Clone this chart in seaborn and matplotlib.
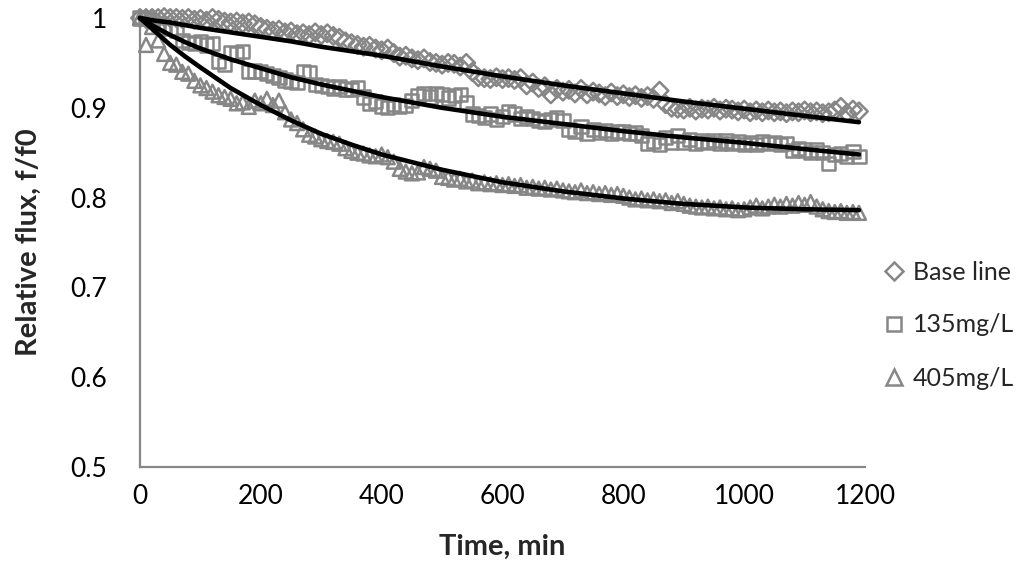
import numpy as np
import pandas as pd
import matplotlib
matplotlib.use("Agg")
import matplotlib.pyplot as plt
import seaborn as sns
from matplotlib.lines import Line2D

# ---------------- data ----------------
time_min = list(range(0, 1200, 10))

base_line = [
    1.000, 1.000, 1.000, 1.000, 1.001, 1.000, 1.000, 0.999, 1.000, 0.998,
    0.999, 0.997, 1.000, 0.998, 0.996, 0.995, 0.996, 0.994, 0.995, 0.993,
    0.990, 0.988, 0.986, 0.987, 0.984, 0.985, 0.982, 0.983, 0.981, 0.984,
    0.981, 0.983, 0.980, 0.978, 0.974, 0.972, 0.970, 0.968, 0.969, 0.966,
    0.964, 0.966, 0.961, 0.957, 0.958, 0.955, 0.953, 0.955, 0.951, 0.950,
    0.948, 0.950, 0.949, 0.946, 0.950, 0.940, 0.934, 0.933, 0.932, 0.934,
    0.932, 0.933, 0.931, 0.933, 0.925, 0.928, 0.922, 0.924, 0.915, 0.921,
    0.918, 0.920, 0.916, 0.921, 0.915, 0.918, 0.916, 0.913, 0.917, 0.913,
    0.915, 0.912, 0.914, 0.911, 0.913, 0.910, 0.919, 0.904, 0.900, 0.899,
    0.898, 0.900, 0.897, 0.899, 0.898, 0.900, 0.897, 0.899, 0.898, 0.896,
    0.898, 0.895, 0.897, 0.895, 0.897, 0.895, 0.896, 0.894, 0.896, 0.895,
    0.897, 0.895, 0.896, 0.894, 0.895, 0.897, 0.901, 0.894, 0.898, 0.896,
]

mg135 = [
    1.000, 0.999, 0.997, 0.993, 0.989, 0.988, 0.986, 0.975, 0.973, 0.972,
    0.974, 0.970, 0.972, 0.952, 0.948, 0.962, 0.960, 0.963, 0.940, 0.941,
    0.940, 0.938, 0.936, 0.934, 0.931, 0.929, 0.928, 0.940, 0.939, 0.926,
    0.925, 0.924, 0.922, 0.924, 0.921, 0.920, 0.922, 0.912, 0.905, 0.907,
    0.902, 0.900, 0.904, 0.901, 0.903, 0.908, 0.914, 0.916, 0.912, 0.916,
    0.915, 0.911, 0.914, 0.915, 0.906, 0.893, 0.891, 0.889, 0.893, 0.887,
    0.890, 0.896, 0.893, 0.888, 0.890, 0.888, 0.886, 0.885, 0.887, 0.889,
    0.886, 0.876, 0.874, 0.879, 0.872, 0.876, 0.873, 0.875, 0.871, 0.874,
    0.873, 0.871, 0.872, 0.869, 0.860, 0.863, 0.859, 0.867, 0.862, 0.869,
    0.862, 0.865, 0.860, 0.863, 0.861, 0.864, 0.860, 0.863, 0.860, 0.862,
    0.859, 0.861, 0.859, 0.862, 0.860, 0.861, 0.859, 0.860, 0.852, 0.855,
    0.853, 0.850, 0.853, 0.850, 0.838, 0.848, 0.849, 0.846, 0.851, 0.846,
]

mg405 = [
    1.000, 0.970, 0.990, 0.975, 0.960, 0.950, 0.948, 0.940, 0.938, 0.930,
    0.925, 0.922, 0.918, 0.914, 0.912, 0.910, 0.905, 0.906, 0.901, 0.908,
    0.905, 0.910, 0.903, 0.908, 0.895, 0.887, 0.883, 0.876, 0.870, 0.868,
    0.865, 0.863, 0.862, 0.860, 0.855, 0.852, 0.850, 0.849, 0.847, 0.846,
    0.848, 0.845, 0.840, 0.832, 0.829, 0.827, 0.828, 0.834, 0.832, 0.830,
    0.823, 0.822, 0.820, 0.821, 0.818, 0.819, 0.816, 0.817, 0.815, 0.816,
    0.814, 0.815, 0.813, 0.814, 0.811, 0.812, 0.810, 0.811, 0.809, 0.810,
    0.808, 0.807, 0.806, 0.808, 0.805, 0.806, 0.804, 0.805, 0.803, 0.804,
    0.802, 0.800, 0.798, 0.799, 0.797, 0.798, 0.796, 0.797, 0.794, 0.796,
    0.793, 0.791, 0.790, 0.789, 0.790, 0.788, 0.789, 0.787, 0.788, 0.786,
    0.787, 0.789, 0.791, 0.788, 0.790, 0.792, 0.790, 0.793, 0.791, 0.794,
    0.792, 0.795, 0.790, 0.787, 0.785, 0.784, 0.785, 0.783, 0.784, 0.783,
]

fit_time = [0, 25, 50, 75, 100, 150, 200, 250, 300, 350, 400, 500, 600,
            700, 800, 900, 1000, 1100, 1190]
fit_base = [1.000, 0.997, 0.995, 0.992, 0.989, 0.984, 0.979, 0.974, 0.968,
            0.963, 0.958, 0.946, 0.935, 0.925, 0.916, 0.907, 0.899, 0.891, 0.884]
fit_135 = [1.000, 0.990, 0.981, 0.973, 0.966, 0.954, 0.944, 0.934, 0.926,
           0.919, 0.912, 0.900, 0.890, 0.882, 0.874, 0.867, 0.861, 0.854, 0.848]
fit_405 = [1.000, 0.985, 0.970, 0.957, 0.945, 0.922, 0.903, 0.886, 0.871,
           0.859, 0.848, 0.831, 0.817, 0.807, 0.799, 0.793, 0.789, 0.787, 0.786]

series_labels = ["Base line", "135mg/L", "405mg/L"]
x_ticks = [0, 200, 400, 600, 800, 1000, 1200]
y_ticks = [0.5, 0.6, 0.7, 0.8, 0.9, 1.0]
y_tick_labels = ["0.5", "0.6", "0.7", "0.8", "0.9", "1"]

# ---------------- style ----------------
sns.set_style("white")
plt.rcParams["font.family"] = ["Lato", "DejaVu Sans"]

GRAY = "#878787"

fig = plt.figure(figsize=(10.24, 5.67), dpi=100)
ax = fig.add_axes([140 / 1024, 1 - 467 / 567, 725 / 1024, 449 / 567])

markers = ["D", "s", "^"]
sizes = [80, 90, 100]
for yv, m, s in zip([base_line, mg135, mg405], markers, sizes):
    sns.scatterplot(x=time_min, y=yv, ax=ax, marker=m, s=s,
                    facecolors="none", edgecolor=GRAY, linewidth=1.8,
                    clip_on=False, zorder=3)

for fv in [fit_base, fit_135, fit_405]:
    sns.lineplot(x=fit_time, y=fv, ax=ax, color="black", linewidth=3.3,
                 zorder=4, clip_on=False)

ax.set_xlim(0, 1200)
ax.set_ylim(0.5, 1.0)
ax.set_xticks(x_ticks)
ax.set_xticklabels([str(t) for t in x_ticks])
ax.set_yticks(y_ticks)
ax.set_yticklabels(y_tick_labels)
ax.tick_params(axis="both", length=0, labelsize=19, colors="black")
ax.tick_params(axis="y", pad=24)
ax.tick_params(axis="x", pad=12)

for side in ["top", "right"]:
    ax.spines[side].set_visible(False)
for side in ["left", "bottom"]:
    ax.spines[side].set_color(GRAY)
    ax.spines[side].set_linewidth(1.6)

ax.set_xlabel("Time, min", fontsize=21, fontweight="bold", labelpad=18)
ax.set_ylabel("Relative flux, f/f0", fontsize=21, fontweight="bold", labelpad=20)

handles = [Line2D([], [], linestyle="", marker=m, markersize=ms,
                  markerfacecolor="none", markeredgecolor=GRAY,
                  markeredgewidth=1.8)
           for m, ms in zip(markers, [9, 10, 11])]
fig.legend(handles, series_labels, loc="center left",
           bbox_to_anchor=(874 / 1024, 1 - 325 / 567), frameon=False,
           fontsize=18, handlelength=0.8, handletextpad=0.35,
           labelspacing=1.2, borderaxespad=0)

fig.savefig("out.png", dpi=100)
